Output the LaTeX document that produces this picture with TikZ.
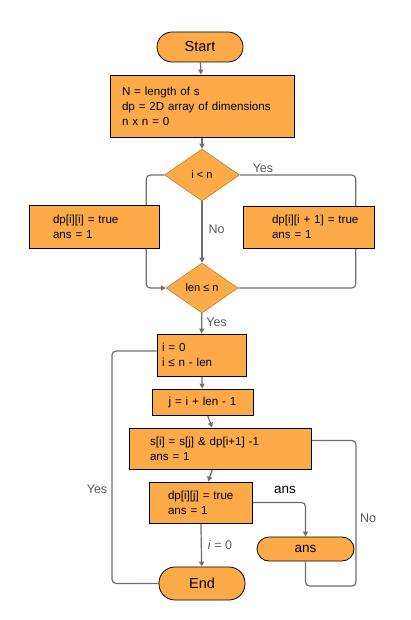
\documentclass[tikz,border=0pt]{standalone}
\usepackage{fontspec}
\setmainfont{Liberation Sans}
\usetikzlibrary{shapes.geometric,arrows.meta,backgrounds}
\definecolor{org}{HTML}{FDAA48}
\definecolor{ln}{HTML}{6E6E6E}
\definecolor{lbl}{HTML}{595959}
\newcommand{\pd}[1]{\hspace*{#1pt}}
\tikzset{
  proc/.style={draw=black, fill=org, line width=0.8pt, rectangle, font=\fontsize{11.6}{15}\selectfont, align=left, inner xsep=0pt, text width=#1},
  term/.style={draw=black, fill=org, line width=0.8pt, rectangle, rounded corners=#1, inner sep=0pt},
  dec/.style={draw=black!30!org, fill=org, line width=0.5pt, diamond, inner sep=0pt, font=\fontsize{11}{13}\selectfont},
  conn/.style={draw=ln, line width=1.2pt, rounded corners=4pt},
  tip/.style={-{Triangle[length=5pt,width=5pt]}},
  lab/.style={text=lbl, font=\fontsize{12.5}{14}\selectfont, inner sep=0pt}
}
\begin{document}
\begin{tikzpicture}[x=1pt,y=-1pt]
\useasboundingbox (0,0) rectangle (410,620);
\node[term=15pt, minimum width=86pt, minimum height=30pt, font=\fontsize{14.5}{16}\selectfont] (start) at (200,47) {Start};
\node[proc=184pt, minimum height=62pt] (b1) at (202,106) {\pd{12}N = length of s\\\pd{12}dp = 2D array of dimensions\\\pd{12}n x n = 0};
\node[dec, minimum width=75pt, minimum height=52pt] (d1) at (202,175) {i < n};
\node[proc=130pt, minimum height=43pt] (b2) at (94,226.5) {\pd{24}dp[i][i] = true\\\pd{24}ans = 1};
\node[proc=131pt, minimum height=42pt] (b3) at (308.5,227) {\pd{29}dp[i][i + 1] = true\\\pd{29}ans = 1};
\node[dec, minimum width=72pt, minimum height=50pt] (d2) at (202,288) {len ≤ n};
\node[proc=89pt, minimum height=42pt] (b4) at (201.5,355) {\pd{5}i = 0\\\pd{5}i ≤ n - len};
\node[proc=101pt, minimum height=26pt, align=center] (b5) at (202.5,402) {j = i + len - 1};
\node[proc=182pt, minimum height=41pt] (b6) at (220,448.5) {\pd{21}s[i] = s[j] \& dp[i+1] -1\\\pd{21}ans = 1};
\node[proc=103pt, minimum height=41pt] (b7) at (200.5,502.5) {\pd{19}dp[i][j] = true\\\pd{19}ans = 1};
\node[term=12pt, minimum width=97pt, minimum height=24pt, font=\fontsize{13.5}{15}\selectfont] (ans) at (305.5,549) {ans};
\node[term=16pt, minimum width=86pt, minimum height=33pt, font=\fontsize{14.5}{16}\selectfont] (end) at (202,583.5) {End};
\coordinate (nr) at (356,586);
\coordinate (yl) at (112,583.5);
\begin{pgfonlayer}{background}
\draw[conn,tip] (start) -- (b1);
\draw[conn,tip] (b1) -- (d1);
\draw[conn,tip] (d1) -- node[lab, right=6pt, pos=0.45] (no1) {No} (d2);
\draw[conn,tip] (d1.west) -- ++(-18,0) |- (d2.west);
\draw[conn] (d1.east) -- node[lab, above=2pt, pos=0.2] (yes1) {Yes} ++(116,0) |- (d2.east);
\draw[conn,tip] (d2) -- node[lab, right=4pt, pos=0.45] (yes2) {Yes} (b4);
\draw[conn,tip] (b4) -- (b5);
\draw[conn,tip] (b5) -- (b6);
\draw[conn,tip] (b6) -- (b7);
\draw[conn,tip] (b7) -- node[lab, right=6pt, pos=0.5] (i0) {\textit{i} = 0} (end);
\draw[conn,tip] (b7.east) -| (ans.north);
\node[font=\fontsize{13.5}{15}\selectfont, inner sep=0pt] (anslbl) at (285,490) {ans};
\draw[conn] (ans.south) |- (nr) |- ([yshift=8pt]b6.east);
\node[lab] (no2) at (368,518) {No};
\draw[conn] (end.west) -- (yl) |- ([yshift=4pt]b4.west);
\node[lab] (yes3) at (97,489) {Yes};
\end{pgfonlayer}
\end{tikzpicture}
\end{document}
